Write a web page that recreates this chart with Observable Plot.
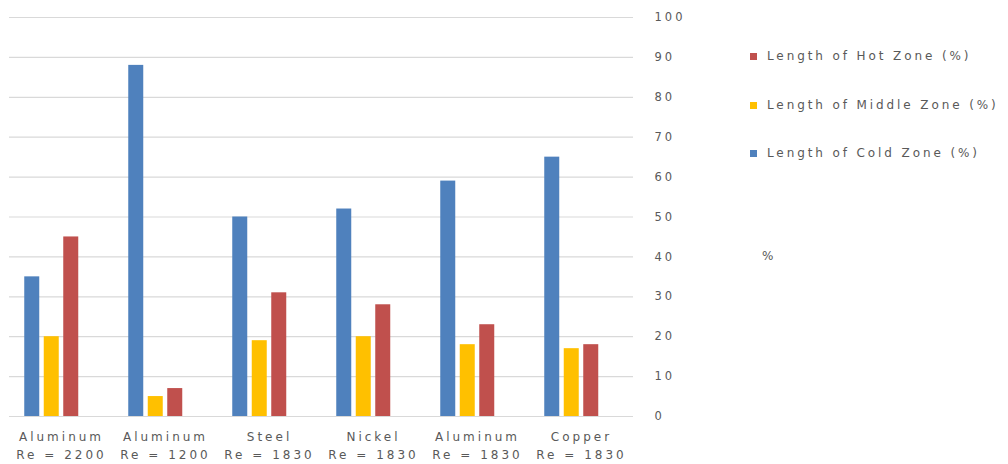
<!DOCTYPE html>
<html>
<head>
<meta charset="utf-8">
<script src="https://cdn.jsdelivr.net/npm/d3@7"></script>
<script src="https://cdn.jsdelivr.net/npm/@observablehq/plot@0.6"></script>
<style>
  html, body { margin: 0; padding: 0; background: #fff; }
  #chart { position: relative; width: 1008px; height: 464px; }
  #chart svg text { letter-spacing: 3px; }
  .legend { position: absolute; left: 0; top: 0; font-family: "DejaVu Sans", sans-serif; font-size: 12px; color: #595959; letter-spacing: 2.9px; }
  .legend .item { position: absolute; white-space: nowrap; display: flex; align-items: center; height: 14px; }
  .legend .swatch { width: 7px; height: 7px; margin-right: 10px; }
</style>
</head>
<body>
<div id="chart"></div>
<script>
// Materials / Reynolds number cases along the bottom
const categories = [
  "Aluminum\nRe = 2200",
  "Aluminum\nRe = 1200",
  "Steel\nRe = 1830",
  "Nickel\nRe = 1830",
  "Aluminum\nRe = 1830",
  "Copper\nRe = 1830"
];

// Zone lengths, in percent of the total length
const coldZone = [35, 88, 50, 52, 59, 65];
const middleZone = [20, 5, 19, 20, 18, 17];
const hotZone = [45, 7, 31, 28, 23, 18];

const seriesNames = [
  "Length of Cold Zone (%)",
  "Length of Middle Zone (%)",
  "Length of Hot Zone (%)",
  "%"
];
const seriesColors = ["#4F81BD", "#FFC000", "#C0504D", "none"];
const seriesValues = [coldZone, middleZone, hotZone, []];

const yTicks = [0, 10, 20, 30, 40, 50, 60, 70, 80, 90, 100];

// Long-format rows, one per bar
const rows = [];
seriesValues.forEach((vals, s) => {
  vals.forEach((v, i) => rows.push({ category: categories[i], series: seriesNames[s], value: v }));
});

// Layout of the clustered bars: four slots per category (the "%" slot stays empty)
const width = 1008, height = 464;
const marginLeft = 9, marginRight = 375;
const paddingInner = 0.25, paddingOuter = 0.125;
const step = (width - marginLeft - marginRight) / (categories.length - paddingInner + 2 * paddingOuter);
const bandwidth = step * (1 - paddingInner);
const slot = bandwidth / seriesNames.length;
const barWidth = 15;
const gap = (slot - barWidth) / 2;

const fontFamily = "'DejaVu Sans', sans-serif";

const barMarks = seriesNames.slice(0, 3).map((name, s) =>
  Plot.barY(rows.filter(d => d.series === name), {
    x: "category",
    y: "value",
    fill: seriesColors[s],
    insetLeft: s * slot + gap,
    insetRight: (seriesNames.length - 1 - s) * slot + gap
  })
);

const plot = Plot.plot({
  width,
  height,
  marginLeft,
  marginRight,
  marginTop: 17,
  marginBottom: 48,
  style: { fontFamily, fontSize: "12px", color: "#595959", background: "#fff" },
  x: { domain: categories, paddingInner, paddingOuter, label: null },
  y: { domain: [0, 100], label: null },
  marks: [
    Plot.gridY(yTicks, { stroke: "#d9d9d9", strokeOpacity: 1, strokeWidth: 1.2 }),
    ...barMarks,
    Plot.axisY(yTicks, { anchor: "right", tickSize: 0, tickPadding: 21, textAnchor: "start", fill: "#595959", fontSize: 11.5, label: null }),
    Plot.axisX({ tickSize: 0, tickPadding: 12, lineHeight: 1.5, fill: "#595959", fontSize: 12, label: null })
  ]
});

const chart = document.getElementById("chart");
chart.appendChild(plot);

// Legend to the right of the value axis
const legend = document.createElement("div");
legend.className = "legend";
const legendItems = [
  { name: seriesNames[2], color: seriesColors[2], left: 750, top: 49 },
  { name: seriesNames[1], color: seriesColors[1], left: 750, top: 98 },
  { name: seriesNames[0], color: seriesColors[0], left: 750, top: 146 },
  { name: seriesNames[3], color: seriesColors[3], left: 762, top: 249 }
];
legendItems.forEach(it => {
  const item = document.createElement("div");
  item.className = "item";
  item.style.left = it.left + "px";
  item.style.top = it.top + "px";
  if (it.color !== "none") {
    const sw = document.createElement("span");
    sw.className = "swatch";
    sw.style.background = it.color;
    item.appendChild(sw);
  }
  const label = document.createElement("span");
  label.textContent = it.name;
  item.appendChild(label);
  legend.appendChild(item);
});
chart.appendChild(legend);
</script>
</body>
</html>
